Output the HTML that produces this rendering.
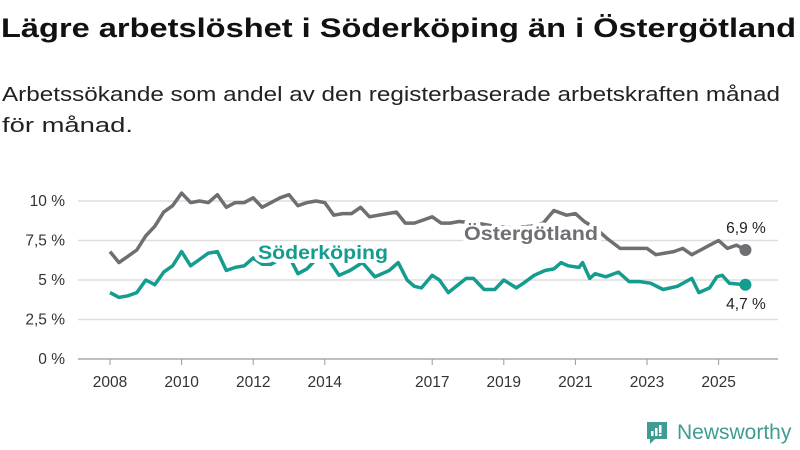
<!DOCTYPE html>
<html><head><meta charset="utf-8"><style>
body{margin:0;background:#fff;font-family:"Liberation Sans","DejaVu Sans",sans-serif;}
#w{position:relative;width:800px;height:450px;overflow:hidden;}
</style></head><body>
<div id="w">
<svg id="c" width="800" height="450" style="position:absolute;left:0;top:0">
<text x="1" y="37" font-size="27" font-weight="bold" fill="#111" textLength="795" lengthAdjust="spacingAndGlyphs">Lägre arbetslöshet i Söderköping än i Östergötland</text>
<text x="2" y="101" font-size="20" fill="#222" textLength="778" lengthAdjust="spacingAndGlyphs">Arbetssökande som andel av den registerbaserade arbetskraften månad</text>
<text x="2" y="132" font-size="20" fill="#222" textLength="131" lengthAdjust="spacingAndGlyphs">för månad.</text>
</svg>
</div>
<script>
const yTicks=[0,2.5,5,7.5,10];
const yTickLabels=["0 %","2,5 %","5 %","7,5 %","10 %"];
const xTicks=[2008,2010,2012,2014,2017,2019,2021,2023,2025];
const ostDates=[2008,2008.25,2008.5,2008.75,2009,2009.25,2009.5,2009.75,2010,2010.25,2010.5,2010.75,2011,2011.25,2011.5,2011.75,2012,2012.25,2012.5,2012.75,2013,2013.25,2013.5,2013.75,2014,2014.25,2014.5,2014.75,2015,2015.25,2015.5,2015.75,2016,2016.25,2016.5,2016.75,2017,2017.25,2017.5,2017.75,2018.25,2018.75,2019.25,2019.75,2020.1,2020.4,2020.75,2021,2021.25,2021.6,2021.9,2022.25,2022.5,2022.75,2023,2023.25,2023.5,2023.75,2024,2024.25,2024.5,2024.75,2025,2025.25,2025.5,2025.75];
const ostValues=[6.8,6.1,6.5,6.9,7.8,8.4,9.3,9.7,10.5,9.9,10.0,9.9,10.4,9.6,9.9,9.9,10.2,9.6,9.9,10.2,10.4,9.7,9.9,10.0,9.9,9.1,9.2,9.2,9.6,9.0,9.1,9.2,9.3,8.6,8.6,8.8,9.0,8.6,8.6,8.7,8.6,8.4,8.3,8.4,8.6,9.4,9.1,9.2,8.7,8.2,7.6,7.0,7.0,7.0,7.0,6.6,6.7,6.8,7.0,6.6,6.9,7.2,7.5,7.0,7.2,6.9];
const sodDates=[2008,2008.25,2008.5,2008.75,2009,2009.25,2009.5,2009.75,2010,2010.25,2010.5,2010.75,2011,2011.25,2011.5,2011.75,2012,2012.25,2012.5,2012.75,2013,2013.25,2013.5,2013.75,2014,2014.1,2014.4,2014.7,2015.05,2015.4,2015.8,2016.05,2016.3,2016.5,2016.7,2017,2017.2,2017.45,2017.95,2018.15,2018.45,2018.75,2019.0,2019.35,2019.55,2019.85,2020.15,2020.4,2020.6,2020.8,2021.1,2021.2,2021.4,2021.55,2021.85,2022.2,2022.5,2022.8,2023.1,2023.45,2023.85,2024.25,2024.45,2024.75,2024.95,2025.1,2025.3,2025.75];
const sodValues=[4.2,3.9,4.0,4.2,5.0,4.7,5.5,5.9,6.8,5.9,6.3,6.7,6.8,5.6,5.8,5.9,6.4,6.0,6.0,6.3,6.5,5.4,5.7,6.3,6.5,6.3,5.3,5.6,6.1,5.2,5.6,6.1,5.0,4.6,4.5,5.3,5.0,4.2,5.1,5.1,4.4,4.4,5.0,4.5,4.8,5.3,5.6,5.7,6.1,5.9,5.8,6.1,5.1,5.4,5.2,5.5,4.9,4.9,4.8,4.4,4.6,5.1,4.2,4.5,5.2,5.3,4.8,4.7];
const NS="http://www.w3.org/2000/svg";
const svg=document.getElementById('c');
const X=t=>110+(t-2008)*35.8;
const Y=v=>359-v*15.8;
function mk(tag,attrs,parent){const e=document.createElementNS(NS,tag);for(const k in attrs)e.setAttribute(k,attrs[k]);(parent||svg).appendChild(e);return e;}
yTicks.forEach((v,i)=>{
 const l=mk('line',{x1:78,x2:778,y1:Y(v),y2:Y(v),stroke:v===0?'#999':'#ddd','stroke-width':v===0?1.2:1.5});
 
 
 const t=mk('text',{x:65,y:Y(v)+5,'text-anchor':'end','font-size':15.5,fill:'#333'});
 t.textContent=yTickLabels[i];
 
 
});
xTicks.forEach(y=>{
 const tk=mk('line',{x1:X(y),x2:X(y),y1:359,y2:365,stroke:'#999','stroke-width':1});
 
 
 const t=mk('text',{x:X(y),y:387,'text-anchor':'middle','font-size':15.5,fill:'#333'});
 t.textContent=y;
 
 
});
function line(d,v,col,name){
 const p=mk('path',{d:d.map((t,i)=>(i?'L':'M')+X(t).toFixed(1)+','+Y(v[i]).toFixed(1)).join(''),fill:'none',stroke:col,'stroke-width':3.5,'stroke-linejoin':'round'});
 
 
 const n=d.length-1;
 const c=mk('circle',{cx:X(d[n]),cy:Y(v[n]),r:6,fill:col});
 
 
}
line(ostDates,ostValues,'#6e6e73','ostergotland');
line(sodDates,sodValues,'#149c8f','soderkoping');
function label(x,y,txt,col,size,bold,anchor,name,len){
 const a={x:x,y:y,'font-size':size,'font-weight':bold?'bold':'normal',fill:col,stroke:'#fff','stroke-width':8,'paint-order':'stroke','stroke-linejoin':'round','text-anchor':anchor||'start'};
 if(len){a.textLength=len;a.lengthAdjust='spacingAndGlyphs';}
 const t=mk('text',a);
 t.textContent=txt;
 
 
}
label(258,259,'Söderköping','#149c8f',19,true,'start','soderkoping-label',130);
label(464,240,'Östergötland','#6e6e73',19,true,'start','ostergotland-label',134);
label(746,233,'6,9 %','#222',15.5,false,'middle','ostergotland-end-value');
label(746,309,'4,7 %','#222',15.5,false,'middle','soderkoping-end-value');
</script>
<div style="position:absolute;left:645px;top:420px;height:26px;display:flex;align-items:center;">
 <svg width="24" height="26"><path d="M2 2h20v17h-12l-5 5v-5H2z" fill="#3f9c93"/><rect x="6" y="11" width="2.5" height="5" fill="#fff"/><rect x="10" y="8" width="2.5" height="8" fill="#fff"/><rect x="14" y="5" width="2.5" height="8" fill="#fff"/><rect x="14" y="14" width="2.5" height="2" fill="#fff"/></svg>
 <span style="margin-left:8px;font-size:21px;color:#3f9c93;">Newsworthy</span>
</div>
</body></html>
